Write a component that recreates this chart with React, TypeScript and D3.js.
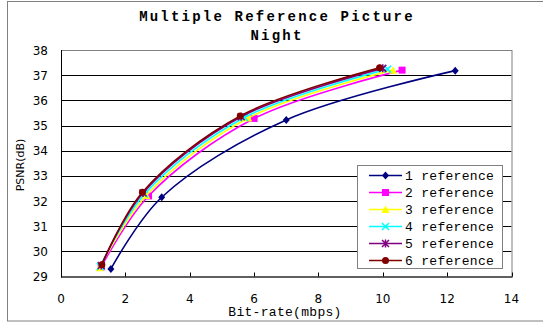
import React from "react";
import * as d3 from "d3";

const W = 543;
const H = 323;

const titleLines = ["Multiple Reference Picture", "Night"];
const xTicks = [0, 2, 4, 6, 8, 10, 12, 14];
const yTicks = [29, 30, 31, 32, 33, 34, 35, 36, 37, 38];
const seriesNames = ["1 reference", "2 reference", "3 reference", "4 reference", "5 reference", "6 reference"];
const seriesColors = ["#000080", "#FF00FF", "#FFFF00", "#00FFFF", "#800080", "#800000"];
const seriesMarkers = ["diamond", "square", "triangle", "x", "star", "circle"];

const s1Bitrate = [1.55, 3.13, 7.0, 12.25];
const s1Psnr = [29.3, 32.15, 35.22, 37.18];
const s2Bitrate = [1.25, 2.72, 6.0, 10.6];
const s2Psnr = [29.38, 32.2, 35.28, 37.2];
const s3Bitrate = [1.2, 2.65, 5.82, 10.32];
const s3Psnr = [29.35, 32.22, 35.3, 37.2];
const s4Bitrate = [1.22, 2.6, 5.7, 10.15];
const s4Psnr = [29.4, 32.28, 35.32, 37.24];
const s5Bitrate = [1.25, 2.55, 5.6, 10.0];
const s5Psnr = [29.44, 32.32, 35.35, 37.27];
const s6Bitrate = [1.27, 2.53, 5.57, 9.9];
const s6Psnr = [29.47, 32.35, 35.38, 37.29];

const seriesX = [s1Bitrate, s2Bitrate, s3Bitrate, s4Bitrate, s5Bitrate, s6Bitrate];
const seriesY = [s1Psnr, s2Psnr, s3Psnr, s4Psnr, s5Psnr, s6Psnr];

const plot = { left: 61, right: 511.5, top: 50, bottom: 276.5 };

function Marker({ type, x, y, color }: { type: string; x: number; y: number; color: string }) {
  const s = 3.5;
  switch (type) {
    case "diamond":
      return <path d={`M${x},${y - s - 0.5}L${x + s},${y}L${x},${y + s + 0.5}L${x - s},${y}Z`} fill={color} />;
    case "square":
      return <rect x={x - s} y={y - s} width={2 * s} height={2 * s} fill={color} />;
    case "triangle":
      return <path d={`M${x},${y - s - 0.5}L${x + s + 0.5},${y + s}L${x - s - 0.5},${y + s}Z`} fill={color} />;
    case "x":
      return (
        <path d={`M${x - s},${y - s}L${x + s},${y + s}M${x - s},${y + s}L${x + s},${y - s}`} stroke={color} strokeWidth={1.5} fill="none" />
      );
    case "star":
      return (
        <path
          d={`M${x - s},${y - s}L${x + s},${y + s}M${x - s},${y + s}L${x + s},${y - s}M${x},${y - s - 0.5}L${x},${y + s + 0.5}`}
          stroke={color}
          strokeWidth={1.5}
          fill="none"
        />
      );
    default:
      return <circle cx={x} cy={y} r={s} fill={color} />;
  }
}

export default function App() {
  const xScale = d3.scaleLinear().domain([0, 14]).range([plot.left, plot.right]);
  const yScale = d3.scaleLinear().domain([29, 38]).range([plot.bottom, plot.top]);
  const line = d3
    .line<[number, number]>()
    .x((d) => xScale(d[0]))
    .y((d) => yScale(d[1]))
    .curve(d3.curveCatmullRom.alpha(0.5));

  const legend = { x: 357, y: 165, w: 145, h: 103, row0: 175.5, step: 17 };

  return (
    <svg width={W} height={H} style={{ position: "absolute", left: 0, top: 0, background: "#fff" }}>
      <rect x={7.5} y={1.5} width={W} height={319.5} fill="#fff" stroke="#808080" strokeWidth={1} />
      {titleLines.map((t, i) => (
        <text
          key={t}
          x={277}
          y={21 + i * 19}
          textAnchor="middle"
          fontFamily="Liberation Mono"
          fontWeight="bold"
          fontSize={14}
          letterSpacing={2.2}
          fill="#000"
        >
          {t}
        </text>
      ))}
      {yTicks.slice(1, -1).map((v) => (
        <line key={v} x1={plot.left} x2={plot.right} y1={Math.round(yScale(v)) + 0.5} y2={Math.round(yScale(v)) + 0.5} stroke="#000" strokeWidth={1} />
      ))}
      <rect
        x={plot.left + 0.5}
        y={plot.top + 0.5}
        width={plot.right - plot.left}
        height={plot.bottom - plot.top}
        fill="none"
        stroke="#808080"
        strokeWidth={1}
      />
      <line x1={plot.left} x2={plot.right + 1} y1={plot.bottom + 0.5} y2={plot.bottom + 0.5} stroke="#000" />
      <line x1={plot.left + 0.5} x2={plot.left + 0.5} y1={plot.top} y2={plot.bottom + 1} stroke="#000" />
      {xTicks.map((v) => (
        <g key={v}>
          <line x1={Math.round(xScale(v)) + 0.5} x2={Math.round(xScale(v)) + 0.5} y1={plot.bottom} y2={plot.bottom - 4} stroke="#000" />
          <text x={xScale(v)} y={303} textAnchor="middle" fontFamily="DejaVu Sans" fontSize={12} fill="#000">
            {v}
          </text>
        </g>
      ))}
      {yTicks.map((v) => (
        <text key={v} x={48} y={yScale(v) + 4.5} textAnchor="end" fontFamily="DejaVu Sans" fontSize={12} fill="#000">
          {v}
        </text>
      ))}
      <text
        x={285}
        y={316}
        textAnchor="middle"
        fontFamily="Liberation Mono"
        fontSize={13}
        letterSpacing={0.3}
        fill="#000"
      >
        Bit-rate(mbps)
      </text>
      <text
        transform={`translate(24,165) rotate(-90)`}
        textAnchor="middle"
        fontFamily="DejaVu Sans"
        fontSize={11}
        fill="#000"
      >
        PSNR(dB)
      </text>
      {seriesNames.map((name, i) => {
        const pts: [number, number][] = seriesX[i].map((x, j) => [x, seriesY[i][j]]);
        return (
          <g key={name}>
            <path d={line(pts) || ""} fill="none" stroke={seriesColors[i]} strokeWidth={1.6} />
            {pts.map((p, j) => (
              <Marker key={j} type={seriesMarkers[i]} x={xScale(p[0])} y={yScale(p[1])} color={seriesColors[i]} />
            ))}
          </g>
        );
      })}
      <rect x={legend.x + 0.5} y={legend.y + 0.5} width={legend.w} height={legend.h} fill="#fff" stroke="#808080" />
      {seriesNames.map((name, i) => {
        const y = legend.row0 + i * legend.step;
        return (
          <g key={name}>
            <line x1={369} x2={402} y1={y} y2={y} stroke={seriesColors[i]} strokeWidth={1.6} />
            <Marker type={seriesMarkers[i]} x={385.5} y={y} color={seriesColors[i]} />
            <text x={405} y={y + 4.5} fontFamily="Liberation Mono" fontSize={13} letterSpacing={0.3} fill="#000">
              {name}
            </text>
          </g>
        );
      })}
    </svg>
  );
}
